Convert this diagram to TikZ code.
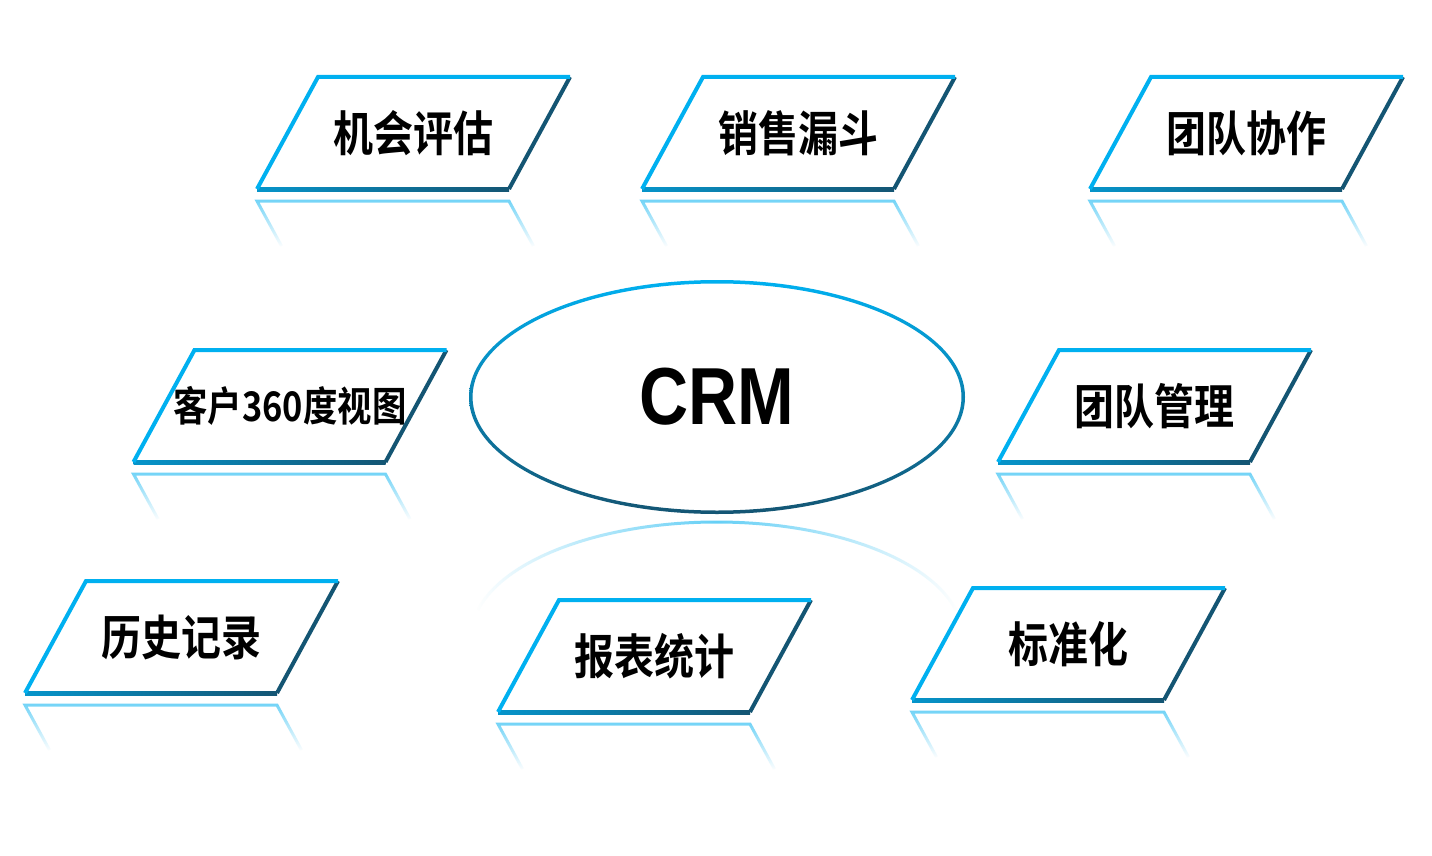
\documentclass[tikz,border=0pt]{standalone}
\usepackage{fontspec}
\usetikzlibrary{calc,fadings}
\newfontfamily\cjkbold{Noto Sans CJK SC Bold}
\newfontfamily\crmfont{Liberation Sans Bold}
\definecolor{edgecyan}{RGB}{0,176,240}
\definecolor{edgedark}{RGB}{20,85,115}
\tikzfading[name=fade down, top color=transparent!0, bottom color=transparent!100]
\tikzfading[name=fade ends, left color=transparent!100, right color=transparent!100, middle color=transparent!0]
\newcommand{\tallcjk}[1]{\scalebox{1}[1.2]{#1}}

\begin{document}
\begin{tikzpicture}[x=1pt, y=-1pt,
        para/.style={inner sep=0pt, font=\cjkbold\fontsize{40}{48}\selectfont},
        topedge/.style={draw=edgecyan, line width=4pt, line join=miter},
        sideedge/.style={draw=edgedark, line width=4pt},
        mirror/.style={draw=edgecyan!55, line width=3pt, path fading=fade down},
    ]
        \fill[white] (0,0) rectangle (1432,856);
        \useasboundingbox (0,0) rectangle (1432,856);

        %Nodes
        \node[para] (jh) at (413.5,133) {\tallcjk{机会评估}};
        \node[para] (xs) at (798.5,133) {\tallcjk{销售漏斗}};
        \node[para] (tx) at (1246.5,133) {\tallcjk{团队协作}};
        \node[para] (kh) at (290,406) {\scalebox{0.86}[1.02]{客户360度视图}};
        \node[para] (tg) at (1154.5,406) {\tallcjk{团队管理}};
        \node[para] (ls) at (181.5,637) {\tallcjk{历史记录}};
        \node[para] (bb) at (654.5,656) {\tallcjk{报表统计}};
        \node[para] (bz) at (1068.5,644) {\tallcjk{标准化}};

        \node[inner sep=0pt, font=\crmfont\fontsize{68}{80}\selectfont] (crm) at (717,397) {\scalebox{1}[1.19]{CRM}};

        %Ellipse and its reflection
        \draw[draw=edgecyan!60, line width=3pt, path fading=fade ends] ($(crm.center)+(-239.1,213)$) arc[start angle=166.4, end angle=13.4, x radius=246pt, y radius=115pt];
        \shade[top color=edgecyan, bottom color=edgedark, even odd rule] (crm.center) ellipse (248pt and 117pt) (crm.center) ellipse (244.5pt and 113.5pt);

        %Borders
        \foreach \n in {jh,xs,tx,kh,tg,ls,bb,bz}{
            \draw[mirror] ($(\n.center)+(-132,113)$) -- ($(\n.center)+(-156.5,68)$) -- ($(\n.center)+(95.5,68)$) -- ($(\n.center)+(120,113)$);
            \shade[left color=edgecyan!70!edgedark, right color=edgedark] ($(\n.center)+(-156.5,54)$) rectangle ($(\n.center)+(95.5,58)$);
            \draw[sideedge] ($(\n.center)+(95.5,56)$) -- ($(\n.center)+(156.5,-56)$);
            \draw[topedge] ($(\n.center)+(-156.5,56)$) -- ($(\n.center)+(-95.5,-56)$) -- ($(\n.center)+(156.5,-56)$);
        }
    \end{tikzpicture}
\end{document}
